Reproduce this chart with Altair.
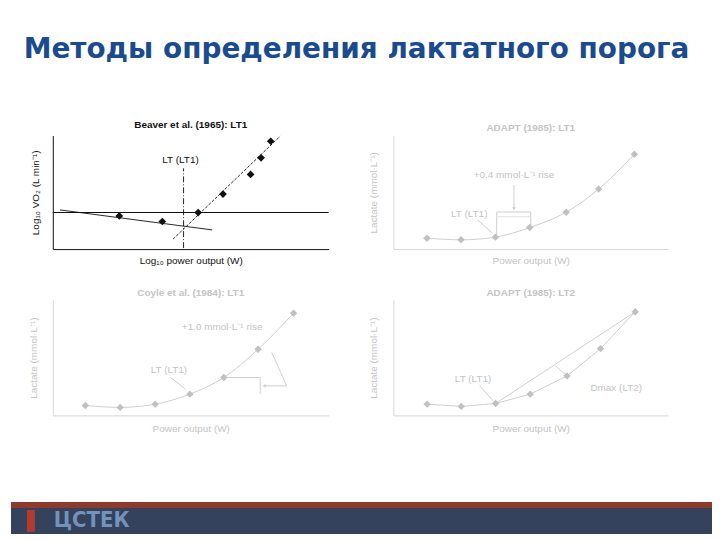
import altair as alt
import pandas as pd

# ---------------- data (panel units: 0-100 on both axes) ----------------
HEADING = "Методы определения лактатного порога"
LOGO = "ЦСТЕК"

# Panel 1: Beaver et al.
p1_title = "Beaver et al. (1965): LT1"
p1_xt = "Log₁₀ power output (W)"
p1_yt = "Log₁₀ VO₂ (L min⁻¹)"
p1_x = [24.1, 39.7, 52.7, 61.7, 71.7, 75.5, 79.0]
p1_y = [29.2, 24.3, 32.2, 48.5, 65.8, 80.4, 95.0]
p1_base_x = [0, 100]
p1_base_y = [32.2, 32.2]
p1_left_x = [2.6, 57.8]
p1_left_y = [34.5, 16.9]
p1_right_x = [43.6, 82.4]
p1_right_y = [8.8, 99.4]
p1_vert_x = [47.4, 47.4]
p1_vert_y = [0.9, 71.1]
p1_lab = ("LT (LT1)", 46.3, 78.3)

# Panel 2: ADAPT LT1
p2_title = "ADAPT (1985): LT1"
lac_yt = "Lactate (mmol·L⁻¹)"
pow_xt = "Power output (W)"
p2_x = [12.2, 24.6, 37.1, 49.6, 62.9, 74.7, 87.7]
p2_y = [9.6, 8.2, 10.5, 19.0, 32.5, 52.9, 83.6]
p2_brk_x = [37.6, 37.6, 50.0, 50.0]
p2_brk_y = [11.7, 32.7, 32.7, 20.2]
p2_brk2_x = [37.6, 50.0]
p2_brk2_y = [28.5, 28.5]
p2_arr_x = [43.9, 43.9]
p2_arr_y = [56.4, 35.5]
p2_lead_x = [30.7, 36.1]
p2_lead_y = [25.7, 14.0]
p2_rise = ("+0.4 mmol·L⁻¹ rise", 43.9, 60.8)
p2_lab = ("LT (LT1)", 27.6, 30.7)

# Panel 3: Coyle et al.
p3_title = "Coyle et al. (1984): LT1"
p3_x = [11.8, 24.4, 37.1, 49.7, 62.0, 74.4, 87.3]
p3_y = [8.6, 6.9, 9.7, 18.4, 32.8, 57.2, 88.5]
p3_step_x = [62.0, 75.2, 75.2]
p3_step_y = [32.8, 32.8, 18.4]
p3_arr_x = [84.8, 76.6]
p3_arr_y = [25.6, 25.6]
p3_diag_x = [79.4, 84.8]
p3_diag_y = [54.3, 25.6]
p3_lead_x = [42.7, 48.1]
p3_lead_y = [32.8, 22.7]
p3_rise = ("+1.0 mmol·L⁻¹ rise", 61.4, 76.5)
p3_lab = ("LT (LT1)", 42.1, 39.4)

# Panel 4: ADAPT LT2
p4_title = "ADAPT (1985): LT2"
p4_x = [12.3, 24.7, 37.2, 49.8, 63.2, 75.4, 88.0]
p4_y = [9.7, 7.8, 10.3, 18.4, 34.2, 57.8, 89.7]
p4_chord_x = [37.2, 88.0]
p4_chord_y = [10.3, 89.7]
p4_dmax_x = [58.9, 63.2]
p4_dmax_y = [43.0, 34.2]
p4_lead_x = [31.4, 36.3]
p4_lead_y = [25.6, 12.7]
p4_dtext = ("Dmax (LT2)", 81.1, 24.1)
p4_lab = ("LT (LT1)", 29.0, 31.9)

# ---------------- styles ----------------
FONT = "Liberation Sans"
FS = 10
BLACK = "#111111"
F_TXT = "#c4c4c4"
F_LINE = "#cfcfcf"
F_PT = "#c0c0c0"
F_AXIS = "#d6d6d6"


def enc_xy(xt, yt, axcol, txtcol, ytp, xtp):
    sc = alt.Scale(domain=[0, 100], nice=False, zero=False)
    x = alt.X("x:Q", scale=sc, axis=alt.Axis(
        title=xt, labels=False, ticks=False, grid=False, domainColor=axcol,
        titleFont=FONT, titleFontSize=FS, titleFontWeight="normal",
        titleColor=txtcol, titlePadding=xtp))
    y = alt.Y("y:Q", scale=sc, axis=alt.Axis(
        title=yt, labels=False, ticks=False, grid=False, domainColor=axcol,
        titleFont=FONT, titleFontSize=FS, titleFontWeight="normal",
        titleColor=txtcol, titlePadding=ytp))
    return x, y


def poly(xs, ys, X, Y, col, dash=None, width=1.0, interp="linear"):
    df = pd.DataFrame({"x": xs, "y": ys, "i": list(range(len(xs)))})
    kw = dict(color=col, strokeWidth=width, interpolate=interp)
    if dash:
        kw["strokeDash"] = dash
    return alt.Chart(df).mark_line(**kw).encode(x=X, y=Y, order="i:Q")


def pts(xs, ys, X, Y, col, size=55, shape="diamond"):
    df = pd.DataFrame({"x": xs, "y": ys})
    return alt.Chart(df).mark_point(shape=shape, filled=True, size=size,
                                    color=col, opacity=1).encode(x=X, y=Y)


def txt(lab, X, Y, col, align="center", baseline="middle"):
    df = pd.DataFrame({"x": [lab[1]], "y": [lab[2]], "t": [lab[0]]})
    return alt.Chart(df).mark_text(font=FONT, fontSize=FS, color=col,
                                   align=align, baseline=baseline).encode(
        x=X, y=Y, text="t:N")


def ptitle(t, col, off):
    return alt.Title(t, font=FONT, fontSize=FS, fontWeight="bold",
                     color=col, offset=off, anchor="middle")


# Panel 1
X, Y = enc_xy(p1_xt, p1_yt, BLACK, BLACK, 12, 6)
panel1 = alt.layer(
    poly(p1_base_x, p1_base_y, X, Y, BLACK, width=1.1),
    poly(p1_left_x, p1_left_y, X, Y, BLACK, width=0.9),
    poly(p1_right_x, p1_right_y, X, Y, BLACK, dash=[3, 1.5], width=0.9),
    poly(p1_vert_x, p1_vert_y, X, Y, BLACK, dash=[6, 2, 1, 2], width=0.9),
    pts(p1_x, p1_y, X, Y, BLACK, size=60),
    txt(p1_lab, X, Y, BLACK),
).properties(width=277, height=114, title=ptitle(p1_title, BLACK, 4))

# Panel 2
X, Y = enc_xy(pow_xt, lac_yt, F_AXIS, F_TXT, 15, 6)
panel2 = alt.layer(
    poly(p2_x, p2_y, X, Y, F_LINE, interp="monotone"),
    poly(p2_brk_x, p2_brk_y, X, Y, F_LINE),
    poly(p2_brk2_x, p2_brk2_y, X, Y, "#e2e2e2"),
    poly(p2_arr_x, p2_arr_y, X, Y, F_LINE),
    poly(p2_lead_x, p2_lead_y, X, Y, F_LINE),
    pts([p2_arr_x[1]], [p2_arr_y[1]], X, Y, F_LINE, size=14, shape="triangle-down"),
    pts(p2_x, p2_y, X, Y, F_PT),
    txt(p2_rise, X, Y, F_TXT, baseline="bottom"),
    txt(p2_lab, X, Y, F_TXT),
).properties(width=276, height=114, title=ptitle(p2_title, F_TXT, 3))

# Panel 3
X, Y = enc_xy(pow_xt, lac_yt, F_AXIS, F_TXT, 14, 8)
panel3 = alt.layer(
    poly(p3_x, p3_y, X, Y, F_LINE, interp="monotone"),
    poly(p3_step_x, p3_step_y, X, Y, F_LINE),
    poly(p3_arr_x, p3_arr_y, X, Y, F_LINE),
    poly(p3_diag_x, p3_diag_y, X, Y, F_LINE),
    poly(p3_lead_x, p3_lead_y, X, Y, F_LINE),
    pts([p3_arr_x[1]], [p3_arr_y[1]], X, Y, F_LINE, size=14, shape="triangle-left"),
    pts(p3_x, p3_y, X, Y, F_PT),
    txt(p3_rise, X, Y, F_TXT),
    txt(p3_lab, X, Y, F_TXT),
).properties(width=277, height=116, title=ptitle(p3_title, F_TXT, 2))

# Panel 4
X, Y = enc_xy(pow_xt, lac_yt, F_AXIS, F_TXT, 15, 8)
panel4 = alt.layer(
    poly(p4_x, p4_y, X, Y, F_LINE),
    poly(p4_chord_x, p4_chord_y, X, Y, F_LINE),
    poly(p4_dmax_x, p4_dmax_y, X, Y, F_LINE),
    poly(p4_lead_x, p4_lead_y, X, Y, F_LINE),
    pts(p4_x, p4_y, X, Y, F_PT),
    txt(p4_dtext, X, Y, F_TXT),
    txt(p4_lab, X, Y, F_TXT),
).properties(width=276, height=116, title=ptitle(p4_title, F_TXT, 2))


def spacer(w, h):
    return alt.Chart(pd.DataFrame({"v": [0]})).mark_point(opacity=0).encode(
        x=alt.value(0), y=alt.value(0)).properties(width=w, height=h)


# heading lives in the first grid cell; its text reaches across the slide
one = pd.DataFrame({"t": [HEADING]})
heading = alt.Chart(one).mark_text(
    font="DejaVu Sans", fontSize=28, fontWeight="bold", color="#1a4b8e",
    align="center", baseline="alphabetic").encode(
    x=alt.value(347), y=alt.value(46), text="t:N").properties(width=42, height=124)

band_df = pd.DataFrame({"t": [LOGO]})
stripe = alt.Chart(band_df).mark_rect(color="#8e3b2c").encode(
    x=alt.value(0), x2=alt.value(704), y=alt.value(0), y2=alt.value(6)
).properties(width=42, height=6)

navy = alt.Chart(band_df).mark_rect(color="#34425d").encode(
    x=alt.value(0), x2=alt.value(704), y=alt.value(0), y2=alt.value(26))
emblem = alt.Chart(band_df).mark_rect(color="#b33a2e").encode(
    x=alt.value(16), x2=alt.value(24), y=alt.value(2), y2=alt.value(24))
logo_txt = alt.Chart(band_df).mark_text(
    font="DejaVu Sans Condensed", fontSize=22, fontWeight="bold", color="#7493ba",
    align="left", baseline="middle").encode(x=alt.value(43), y=alt.value(12), text="t:N")
footer = alt.layer(navy, emblem, logo_txt).properties(width=42, height=26)

W = [42, 277, 65, 276]
cells = (
    [heading] + [spacer(w, 124) for w in W[1:]]
    + [spacer(42, 114), panel1, spacer(65, 114), panel2]
    + [spacer(w, 51) for w in W]
    + [spacer(42, 116), panel3, spacer(65, 116), panel4]
    + [spacer(w, 87) for w in W]
    + [stripe] + [spacer(w, 6) for w in W[1:]]
    + [footer] + [spacer(w, 26) for w in W[1:]]
)

chart = alt.concat(*cells, columns=4, spacing=0, bounds="flush").properties(
    padding=0).configure_view(stroke=None)

chart.save("out.html", embed_options={"renderer": "svg", "actions": False})
